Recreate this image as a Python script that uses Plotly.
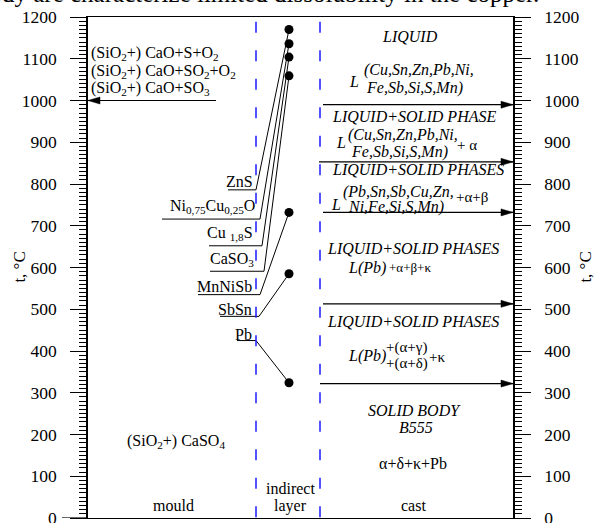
import plotly.graph_objects as go

# ---------------- data ----------------
y_ticks = list(range(0, 1201, 100))
compounds = ["ZnS", "Ni<sub>0,75</sub>Cu<sub>0,25</sub>O", "Cu <sub>1,8</sub>S",
             "CaSO<sub>3</sub>", "MnNiSb", "SbSn", "Pb"]
compound_label_temps = [786, 716, 652, 591, 535, 483, 425]
compound_dot_temps = [1170, 1136, 1104, 1059, 732, 585, 324]
cast_boundary_temps = [990, 853, 732, 513, 322]
mould_boundary_temps = [1000]

# ---------------- layout helpers ----------------
W, H = 595, 523
PL, PR, PT, PB = 88, 513, 17.3, 518.5
YMAX = 1200
FONT = "Liberation Serif, Times New Roman, Times, serif"


def T(py):
    """pixel row -> temperature (for placing text)"""
    return (PB - py) / (PB - PT) * YMAX


def PX(px):
    """pixel column -> paper x"""
    return (px - PL) / (PR - PL)


def PY(py):
    return (PB - py) / (PB - PT)


DOT_X = 289
label_left_x = [228, 162, 209, 210, 198, 220, 237]
corner_x = [256, 260, 262, 264, 260, 259, 256]
label_right_x = [254, 256, 254, 255, 253, 253, 253]
label_center_py = [182, 207, 234, 260, 287, 310, 335]
cast_arrow_start = [323, 319, 323, 323, 320]
mould_arrow_start = [216]

fig = go.Figure()

# connectors from compound labels to points
cx, cy = [], []
for i in range(len(compounds)):
    cx += [label_left_x[i], corner_x[i], DOT_X, None]
    cy += [compound_label_temps[i], compound_label_temps[i], compound_dot_temps[i], None]
fig.add_trace(go.Scatter(x=cx, y=cy, mode="lines", line=dict(color="black", width=1),
                         yaxis="y3", hoverinfo="skip", showlegend=False))

# boundary arrows (shafts)
ax, ay = [], []
for t, s in zip(cast_boundary_temps, cast_arrow_start):
    ax += [s, PR, None]
    ay += [t, t, None]
for t, s in zip(mould_boundary_temps, mould_arrow_start):
    ax += [s, PL, None]
    ay += [t, t, None]
fig.add_trace(go.Scatter(x=ax, y=ay, mode="lines", line=dict(color="black", width=1.2),
                         yaxis="y4", hoverinfo="skip", showlegend=False))

# points
fig.add_trace(go.Scatter(x=[DOT_X] * len(compound_dot_temps), y=compound_dot_temps,
                         mode="markers", marker=dict(color="black", size=9),
                         yaxis="y2", hoverinfo="skip", showlegend=False))
fig.add_trace(go.Scatter(x=[None], y=[None], mode="markers", yaxis="y",
                         hoverinfo="skip", showlegend=False))

shapes = []
# arrow heads
for t in cast_boundary_temps:
    shapes.append(dict(type="path", xref="x", yref="y", xsizemode="pixel", ysizemode="pixel",
                       xanchor=PR, yanchor=t, path="M0,0 L-12,3.5 L-12,-3.5 Z",
                       fillcolor="black", line=dict(color="black", width=0.5)))
for t in mould_boundary_temps:
    shapes.append(dict(type="path", xref="x", yref="y", xsizemode="pixel", ysizemode="pixel",
                       xanchor=PL, yanchor=t, path="M0,0 L12,3.5 L12,-3.5 Z",
                       fillcolor="black", line=dict(color="black", width=0.5)))
# dashed zone borders
for xv in (256, 320):
    shapes.append(dict(type="line", xref="x", yref="y", x0=xv, x1=xv, y0=T(22), y1=0,
                       line=dict(color="#1a1aff", width=1.5, dash="11px,17.5px")))
# bottom line extension on the left
shapes.append(dict(type="line", xref="paper", yref="y", x0=PX(62), x1=0, y0=0, y1=0,
                   line=dict(color="black", width=1.2)))

ann = []


def txt(text, x, py, xanchor="center", size=16, yanchor="middle"):
    ann.append(dict(text=text, x=x, y=T(py), xref="x", yref="y", showarrow=False,
                    xanchor=xanchor, yanchor=yanchor, borderpad=0,
                    font=dict(family=FONT, size=size, color="black")))


# compound labels
for i, name in enumerate(compounds):
    txt(name, label_right_x[i], label_center_py[i], xanchor="right")

# mould side
txt("(SiO<sub>2</sub>+) CaO+S+O<sub>2</sub>", 90, 54, xanchor="left")
txt("(SiO<sub>2</sub>+) CaO+SO<sub>2</sub>+O<sub>2</sub>", 90, 72, xanchor="left")
txt("(SiO<sub>2</sub>+) CaO+SO<sub>3</sub>", 90, 89, xanchor="left")
txt("(SiO<sub>2</sub>+) CaSO<sub>4</sub>", 176, 442)
txt("mould", 173, 506)
txt("indirect", 290, 489)
txt("layer", 290, 506)
txt("cast", 413, 506)

# cast side
txt("<i>LIQUID</i>", 410, 37)
txt("<i>L</i>", 348, 82, xanchor="left")
txt("<i>(Cu,Sn,Zn,Pb,Ni,</i>", 363, 70, xanchor="left")
txt("<i>Fe,Sb,Si,S,Mn)</i>", 365, 88, xanchor="left")
txt("<i>LIQUID+SOLID PHASE</i>", 414, 117)
txt("<i>L</i>", 335, 143, xanchor="left")
txt("<i>(Cu,Sn,Zn,Pb,Ni,</i>", 347, 135, xanchor="left")
txt("<i>Fe,Sb,Si,S,Mn)</i>", 350, 152, xanchor="left")
txt("+ α", 456, 145, xanchor="left", size=15)
txt("<i>LIQUID+SOLID PHASES</i>", 418, 170)
txt("<i>L</i>", 330, 205, xanchor="left")
txt("<i>(Pb,Sn,Sb,Cu,Zn,</i>", 342, 192, xanchor="left")
txt("<i>Ni,Fe,Si,S,Mn)</i>", 347, 207, xanchor="left")
txt("+α+β", 455, 197, xanchor="left", size=15)
txt("<i>LIQUID+SOLID PHASES</i>", 413, 249)
txt("<i>L(Pb)</i>", 347, 268, xanchor="left")
txt("+α+β+κ", 388, 268, xanchor="left", size=13)
txt("<i>LIQUID+SOLID PHASES</i>", 413, 322)
txt("<i>L(Pb)</i>", 347, 356, xanchor="left")
txt("+(α+γ)", 385, 348, xanchor="left", size=15)
txt("+(α+δ)", 385, 364, xanchor="left", size=15)
txt("+κ", 428, 357, xanchor="left", size=15)
txt("<i>SOLID BODY</i>", 414, 411)
txt("<i>B555</i>", 416, 428)
txt("α+δ+κ+Pb", 413, 464)

# axis titles (left and right)
for tx in (20, 586):
    ann.append(dict(text="t, °C", x=PX(tx), y=PY(268), xref="paper", yref="paper",
                    showarrow=False, textangle=-90, xanchor="center", yanchor="middle",
                    borderpad=0, font=dict(family=FONT, size=17, color="black")))

# clipped line of the surrounding document text
ann.append(dict(text="body are characterize limited dissolubility in the copper.",
                x=PX(540), y=PY(-6), xref="paper", yref="paper", showarrow=False,
                xanchor="right", yanchor="middle", borderpad=0,
                font=dict(family=FONT, size=25, color="black")))

major_axis = dict(range=[0, YMAX], tickmode="array", tickvals=y_ticks,
                  ticks="outside", ticklen=16, tickwidth=1, tickcolor="black",
                  showline=True, linecolor="black", linewidth=1.5, showgrid=False,
                  zeroline=False, ticklabelstandoff=10, ticklabeloverflow="allow",
                  tickfont=dict(family=FONT, size=17.5, color="black"))
minor_axis = dict(range=[0, YMAX], tickmode="linear", tick0=0, dtick=10,
                  ticks="outside", ticklen=8, tickwidth=1, tickcolor="black",
                  showline=False, showgrid=False, zeroline=False, showticklabels=False,
                  overlaying="y")

fig.update_layout(
    width=W, height=H,
    margin=dict(l=PL, r=W - PR, t=PT, b=H - PB, autoexpand=False),
    paper_bgcolor="white", plot_bgcolor="white",
    xaxis=dict(range=[PL, PR], showline=True, mirror=True, linecolor="black", linewidth=1.2,
               showticklabels=False, ticks="", showgrid=False, zeroline=False),
    yaxis=dict(side="left", **major_axis),
    yaxis2=dict(side="right", overlaying="y", **major_axis),
    yaxis3=dict(side="left", **minor_axis),
    yaxis4=dict(side="right", **minor_axis),
    shapes=shapes,
    annotations=ann,
    showlegend=False,
)

fig.write_html("out.html", config={"displayModeBar": False},
               post_script="document.body.style.margin='0';document.body.style.overflow='hidden';")
